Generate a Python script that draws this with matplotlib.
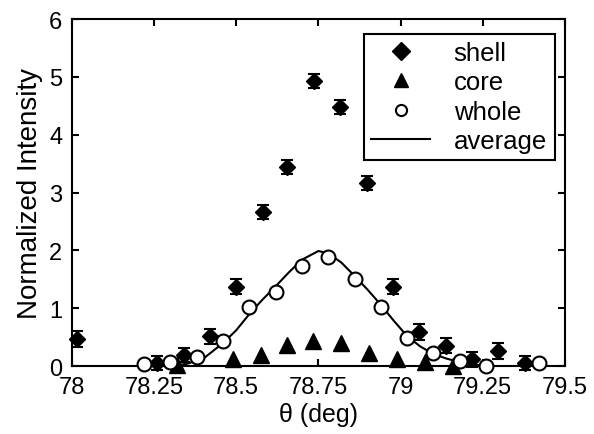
import matplotlib
matplotlib.use("Agg")
import matplotlib.pyplot as plt
from matplotlib.lines import Line2D

plt.rcParams['font.family'] = ['Liberation Sans', 'DejaVu Sans']

# shell data
shell_x = [78.015, 78.26, 78.34, 78.42, 78.50, 78.58, 78.655, 78.737, 78.815,
           78.897, 78.977, 79.056, 79.137, 79.217, 79.296, 79.378]
shell_y = [0.47, 0.05, 0.19, 0.52, 1.37, 2.66, 3.44, 4.93, 4.48,
           3.17, 1.37, 0.59, 0.35, 0.12, 0.26, 0.05]
shell_err = [0.14, 0.12, 0.12, 0.13, 0.13, 0.12, 0.12, 0.12, 0.12,
             0.12, 0.13, 0.14, 0.13, 0.13, 0.14, 0.12]

# core data
core_x = [78.32, 78.49, 78.575, 78.655, 78.735, 78.82, 78.905, 78.99, 79.075, 79.16]
core_y = [0.02, 0.12, 0.20, 0.36, 0.44, 0.40, 0.22, 0.12, 0.07, 0.00]

# whole data
whole_x = [78.22, 78.30, 78.38, 78.46, 78.54, 78.62, 78.70, 78.78, 78.86,
           78.94, 79.02, 79.10, 79.18, 79.26, 79.42]
whole_y = [0.03, 0.07, 0.16, 0.43, 1.02, 1.28, 1.73, 1.89, 1.51,
           1.02, 0.48, 0.22, 0.09, 0.00, 0.05]

# average curve
avg_x = [78.0, 78.30, 78.35, 78.40, 78.46, 78.50, 78.54, 78.58, 78.62, 78.66,
         78.70, 78.75, 78.78, 78.82, 78.86, 78.90, 78.94, 78.98, 79.02, 79.06,
         79.10, 79.14, 79.18, 79.22, 79.26, 79.5]
avg_y = [0.0, 0.0, 0.04, 0.13, 0.40, 0.62, 0.90, 1.15, 1.38, 1.62,
         1.84, 1.99, 1.95, 1.79, 1.56, 1.32, 1.06, 0.78, 0.52, 0.34,
         0.21, 0.13, 0.07, 0.03, 0.0, 0.0]

xticks = [78, 78.25, 78.5, 78.75, 79, 79.25, 79.5]
xticklabels = ['78', '78.25', '78.5', '78.75', '79', '79.25', '79.5']
yticks = [0, 1, 2, 3, 4, 5, 6]

fig = plt.figure(figsize=(5.94, 4.35), dpi=100)
ax = fig.add_axes([0.121, 0.156, 0.830, 0.798])

ax.plot(avg_x, avg_y, '-', color='black', lw=1.5, zorder=2)
ax.errorbar(shell_x, shell_y, yerr=shell_err, fmt='D', color='black', ms=8,
            capsize=4.5, elinewidth=1.5, capthick=1.5, zorder=3,
            clip_on=False)
ax.plot(core_x, core_y, '^', color='black', ms=11, ls='none',
        zorder=3, clip_on=False)
ax.plot(whole_x, whole_y, 'o', mfc='white', mec='black', mew=1.5, ms=10,
        ls='none', zorder=4, clip_on=False)

ax.set_xlim(78, 79.5)
ax.set_ylim(0, 6)
ax.set_xticks(xticks)
ax.set_xticklabels(xticklabels)
ax.set_yticks(yticks)
ax.tick_params(direction='in', top=True, right=True, labelsize=17, length=5,
               width=1.5, pad=7)
for s in ax.spines.values():
    s.set_linewidth(1.5)

ax.set_xlabel('θ (deg)', fontsize=18, labelpad=3)
ax.set_ylabel('Normalized Intensity', fontsize=20, labelpad=4)

handles = [
    Line2D([], [], marker='D', color='black', ls='none', ms=9),
    Line2D([], [], marker='^', color='black', ls='none', ms=10),
    Line2D([], [], marker='o', mfc='white', mec='black', mew=1.5, ls='none', ms=8),
    Line2D([], [], color='black', lw=1.5),
]
labels = ['shell', 'core', 'whole', 'average']
leg = ax.legend(handles, labels, loc='upper right',
                bbox_to_anchor=(0.979, 0.958), fontsize=18.5, frameon=True,
                fancybox=False, edgecolor='black', framealpha=1,
                handlelength=2.3, labelspacing=0.2, borderpad=0.3,
                handletextpad=0.9, borderaxespad=0)
leg.get_frame().set_linewidth(1.5)

fig.savefig('out.png', dpi=100)
